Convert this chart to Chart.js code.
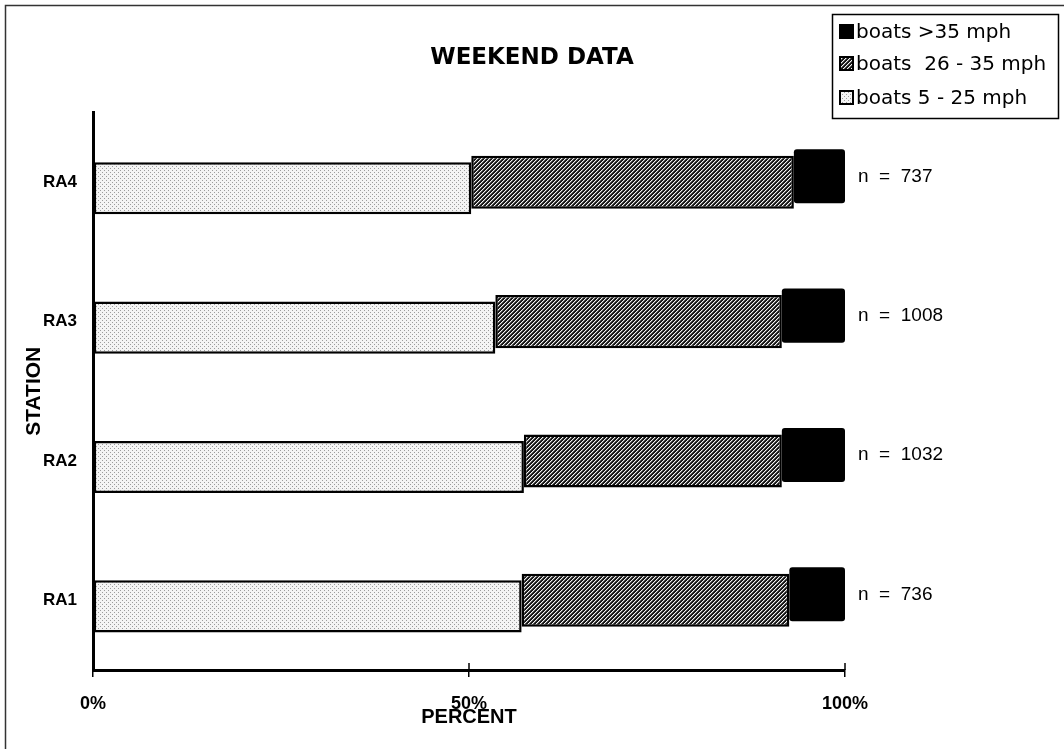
<!DOCTYPE html>
<html>
<head>
<meta charset="utf-8">
<script src="https://cdn.jsdelivr.net/npm/chart.js@4.4.0/dist/chart.umd.min.js"></script>
<style>
    html, body { margin: 0; padding: 0; background: #fff; }
    canvas { display: block; }
</style>
</head>
<body>
<canvas id="meuGrafico" width="1064" height="749"></canvas>
<script>
// dados (percentagens por estação)
const estacoes = ["RA4", "RA3", "RA2", "RA1"];
const lentos = [50.3, 53.5, 57.3, 57.0];   // boats 5 - 25 mph
const medios = [42.9, 38.1, 34.3, 35.6];   // boats 26 - 35 mph
const rapidos = [6.8, 8.4, 8.4, 7.4];      // boats >35 mph
const totais = [737, 1008, 1032, 736];
const marcasX = [0, 50, 100];

// deslocamento vertical de cada série (efeito 3D do original)
const deslocamentos = [6, 0, -6];

const canvas = document.getElementById("meuGrafico");
const ctx = canvas.getContext("2d");

Chart.defaults.font.family = "'Liberation Sans', Arial, sans-serif";
Chart.defaults.color = "#000";

function padraoPontos() {
    const c = document.createElement("canvas");
    c.width = 4; c.height = 4;
    const g = c.getContext("2d");
    g.fillStyle = "#f4f4f4";
    g.fillRect(0, 0, 4, 4);
    g.fillStyle = "#9c9c9c";
    g.fillRect(0, 0, 1, 1);
    g.fillRect(2, 2, 1, 1);
    return ctx.createPattern(c, "repeat");
}

function padraoListras() {
    const c = document.createElement("canvas");
    c.width = 4; c.height = 4;
    const g = c.getContext("2d");
    g.fillStyle = "#161616";
    g.fillRect(0, 0, 4, 4);
    for (let i = 0; i < 4; i++) {
        g.fillStyle = "#f4f4f4";
        g.fillRect(i, 3 - i, 1, 1);
        g.fillStyle = "#6a6a6a";
        g.fillRect(i, (4 - i) % 4, 1, 1);
    }
    return ctx.createPattern(c, "repeat");
}

const pontos = padraoPontos();
const listras = padraoListras();

const efeito = {
    id: "efeito",
    beforeDatasetDraw(chart, args) {
        chart.ctx.save();
        chart.ctx.translate(0, deslocamentos[args.index]);
    },
    afterDatasetDraw(chart) {
        chart.ctx.restore();
    },
    afterDraw(chart) {
        const c = chart.ctx;
        const { x, y } = chart.scales;
        c.save();

        // marcas do eixo x cruzando a linha
        c.strokeStyle = "#000";
        c.lineWidth = 1.5;
        marcasX.forEach((v) => {
            const px = x.getPixelForValue(v);
            c.beginPath();
            c.moveTo(px, y.bottom - 7);
            c.lineTo(px, y.bottom);
            c.stroke();
        });

        // rótulos n = ...
        const meta = chart.getDatasetMeta(2);
        c.fillStyle = "#000";
        c.font = "19px 'Liberation Sans', Arial, sans-serif";
        c.textAlign = "left";
        c.textBaseline = "middle";
        totais.forEach((n, i) => {
            const barra = meta.data[i];
            c.fillText("n  =  " + n, x.getPixelForValue(100) + 13, barra.y + deslocamentos[2]);
        });

        // legenda
        const bx = 832, by = 14, bw = 226, bh = 104;
        c.lineWidth = 1.5;
        c.strokeStyle = "#000";
        c.strokeRect(bx + 0.5, by + 0.5, bw, bh);
        const ordem = [2, 1, 0];
        const linhas = [32, 64, 98];
        c.font = "20px 'DejaVu Sans', 'Liberation Sans', sans-serif";
        ordem.forEach((ds, k) => {
            const d = chart.data.datasets[ds];
            const ly = linhas[k];
            c.fillStyle = d.backgroundColor;
            c.fillRect(bx + 8, ly - 7, 13, 13);
            c.lineWidth = 2;
            c.strokeRect(bx + 8, ly - 7, 13, 13);
            c.fillStyle = "#000";
            c.fillText(d.label, bx + 24, ly + 1);
        });

        // moldura externa
        c.strokeStyle = "#333";
        c.lineWidth = 1.5;
        c.beginPath();
        c.moveTo(5.5, 749);
        c.lineTo(5.5, 5.5);
        c.lineTo(1064, 5.5);
        c.stroke();
        c.restore();
    }
};

const grafico = new Chart(ctx, {
    type: "bar",
    data: {
        labels: estacoes,
        datasets: [
            {
                label: "boats 5 - 25 mph",
                data: lentos,
                backgroundColor: pontos,
                borderColor: "#000",
                borderWidth: 2.5,
                borderSkipped: false,
                barPercentage: 0.374,
                categoryPercentage: 1
            },
            {
                label: "boats  26 - 35 mph",
                data: medios,
                backgroundColor: listras,
                borderColor: "#000",
                borderWidth: 2.5,
                borderSkipped: false,
                borderRadius: 2,
                barPercentage: 0.381,
                categoryPercentage: 1
            },
            {
                label: "boats >35 mph",
                data: rapidos,
                backgroundColor: "#000",
                borderWidth: 0,
                borderRadius: 3,
                borderSkipped: false,
                barPercentage: 0.388,
                categoryPercentage: 1
            }
        ]
    },
    options: {
        indexAxis: "y",
        responsive: false,
        animation: false,
        layout: { padding: 0 },
        plugins: {
            legend: { display: false },
            tooltip: { enabled: false },
            title: {
                display: true,
                text: "WEEKEND DATA",
                color: "#000",
                font: { size: 23, weight: "bold", family: "'DejaVu Sans', 'Liberation Sans', sans-serif" },
                padding: { top: 44, bottom: 41 }
            }
        },
        scales: {
            x: {
                stacked: true,
                min: 0,
                max: 100,
                afterFit: (s) => { s.height = 79; },
                afterBuildTicks: (s) => { s.ticks = marcasX.map((v) => ({ value: v })); },
                ticks: {
                    padding: 16,
                    color: "#000",
                    font: { size: 18, weight: "bold", family: "'Liberation Sans Narrow', 'Liberation Sans', Arial, sans-serif" },
                    callback: (v) => v + "%"
                },
                grid: { drawOnChartArea: false, drawTicks: true, tickLength: 7, color: "#000", lineWidth: 1.5 },
                border: { color: "#000", width: 3 },
                title: {
                    display: true,
                    text: "PERCENT",
                    color: "#000",
                    padding: 20,
                    font: { size: 20, weight: "bold", family: "'Liberation Sans Narrow', 'Liberation Sans', Arial, sans-serif" }
                }
            },
            y: {
                stacked: true,
                afterFit: (s) => { s.width = 93; },
                ticks: { padding: 16, color: "#000", font: { size: 17, weight: "bold" } },
                grid: { display: false, drawTicks: false },
                border: { color: "#000", width: 3 },
                title: {
                    display: true,
                    text: "STATION",
                    color: "#000",
                    padding: 22,
                    font: { size: 21, weight: "bold" }
                }
            },
            // espaço à direita para os rótulos n = ...
            direita: {
                type: "category",
                position: "right",
                afterFit: (s) => { s.width = 219; },
                ticks: { display: false },
                grid: { display: false, drawTicks: false },
                border: { display: false }
            }
        }
    },
    plugins: [efeito]
});
</script>
</body>
</html>
